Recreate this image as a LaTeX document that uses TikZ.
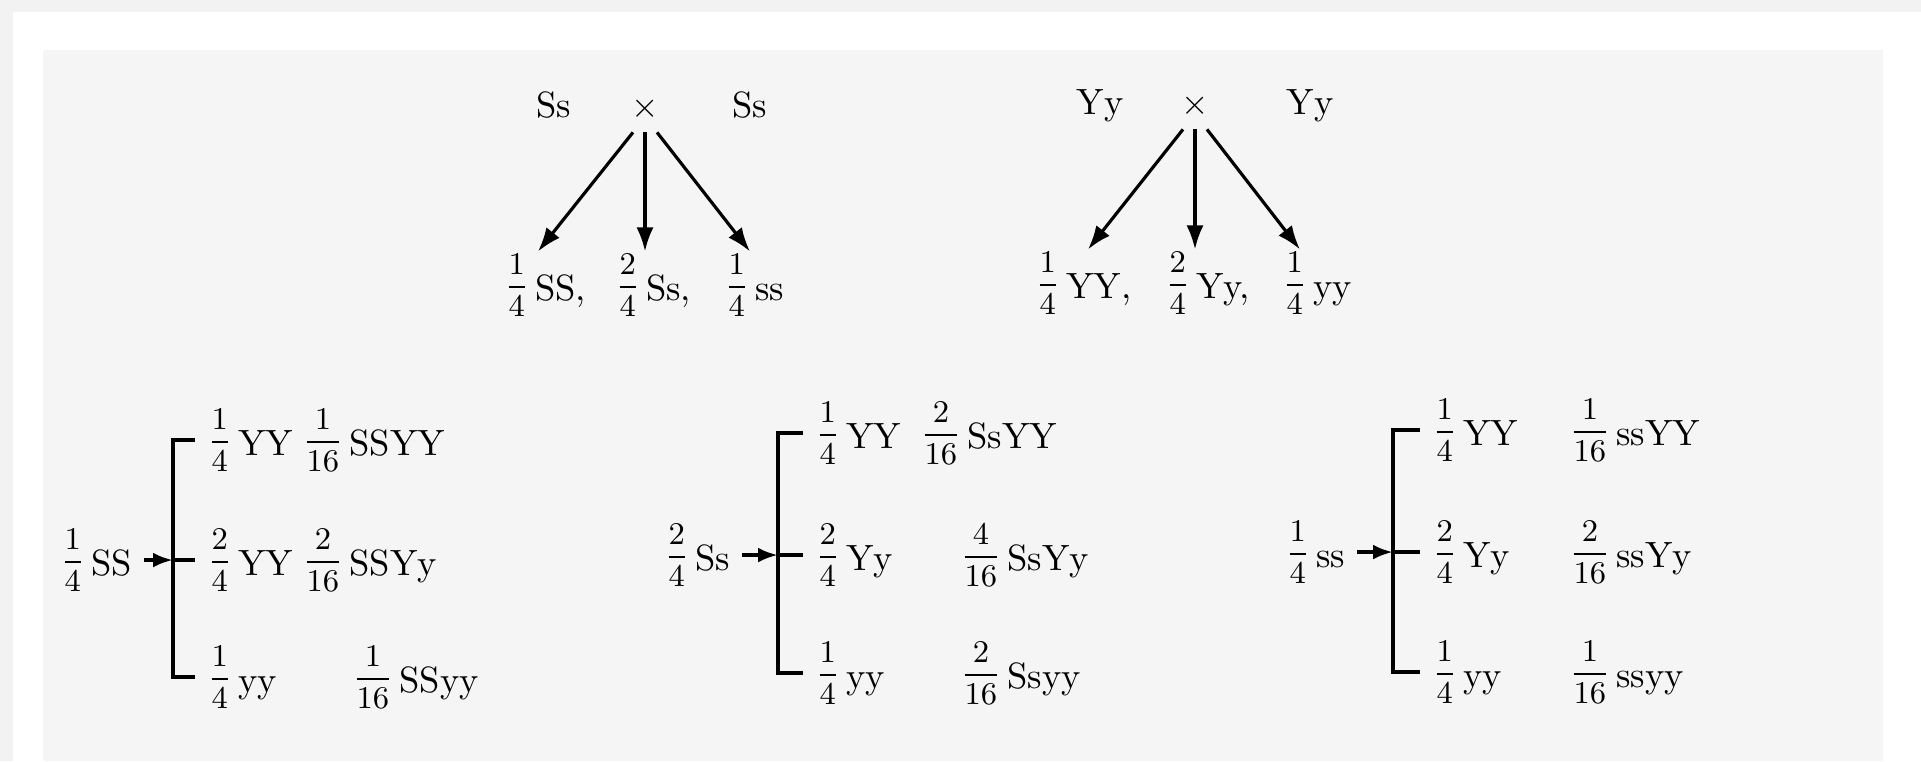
\documentclass[tikz,border=0pt]{standalone}
\usepackage{tikz}
\usetikzlibrary{arrows.meta,positioning}
\definecolor{PageGray}{HTML}{F2F2F2}
\definecolor{PanelGray}{HTML}{F5F5F5}
\newcommand{\gfrac}[2]{\raisebox{1.5pt}{\fontsize{9.4}{11}\selectfont$\displaystyle\frac{#1}{#2}$}\,}

\begin{document}
\begin{tikzpicture}[
      every node/.style={font=\fontsize{10.4}{12.5}\selectfont},
      parent/.style={anchor=base},
      geno/.style={anchor=base west},
      cross/.style={-{Latex[length=2.4mm,width=1.7mm]},line width=0.9pt},
      feed/.style={-{Latex[length=2mm,width=1.5mm]},line width=1.1pt},
      bracket/.style={line width=1.1pt}]
      \useasboundingbox (0,0) rectangle (19.21,-7.61);
      \fill[PageGray] (0,0) rectangle (19.21,-7.61);
      \fill[white] (0.13,-0.12) rectangle (19.21,-7.61);
      \fill[PanelGray] (0.43,-0.50) rectangle (18.83,-7.61);
      % monohybrid crosses
      \node[parent] (ssA) at (5.54,-1.17) {Ss};
      \node[parent] (crossS) at (6.45,-1.17) {$\times$};
      \node[parent] (ssB) at (7.50,-1.17) {Ss};
      \node[geno] (fSS) at (4.92,-3.00) {\gfrac{1}{4}SS,};
      \node[geno] (fSs) at (6.03,-3.00) {\gfrac{2}{4}Ss,};
      \node[geno] (fss) at (7.12,-3.00) {\gfrac{1}{4}ss};
      \node[parent] (yyA) at (11.00,-1.14) {Yy};
      \node[parent] (crossY) at (11.95,-1.14) {$\times$};
      \node[parent] (yyB) at (13.10,-1.14) {Yy};
      \node[geno] (fYY) at (10.23,-2.98) {\gfrac{1}{4}YY,};
      \node[geno] (fYy) at (11.53,-2.98) {\gfrac{2}{4}Yy,};
      \node[geno] (fyy) at (12.70,-2.98) {\gfrac{1}{4}yy};
      \draw[cross] ([xshift=-1.2mm]crossS.south) -- ([xshift=4.6mm,yshift=-1mm]fSS.north west);
      \draw[cross] (crossS.south) -- ([yshift=-1mm]crossS |- fSs.north);
      \draw[cross] ([xshift=1.2mm]crossS.south) -- ([xshift=3.8mm,yshift=-1mm]fss.north west);
      \draw[cross] ([xshift=-1.2mm]crossY.south) -- ([xshift=6.5mm,yshift=-1mm]fYY.north west);
      \draw[cross] (crossY.south) -- ([yshift=-1mm]crossY |- fYy.north);
      \draw[cross] ([xshift=1.2mm]crossY.south) -- ([xshift=3mm,yshift=-1mm]fyy.north west);
      % SS branch
      \node[geno] (p1) at (0.48,-5.75) {\gfrac{1}{4}SS};
      \node[geno] (r11) at (1.95,-4.55) {\gfrac{1}{4}YY};
      \node[geno] (r12) at (1.95,-5.75) {\gfrac{2}{4}YY};
      \node[geno] (r13) at (1.95,-6.92) {\gfrac{1}{4}yy};
      \node[geno] (s11) at (2.90,-4.55) {\gfrac{1}{16}SSYY};
      \node[geno] (s12) at (2.90,-5.75) {\gfrac{2}{16}SSYy};
      \node[geno] (s13) at (3.40,-6.92) {\gfrac{1}{16}SSyy};
      \coordinate (b1) at ([xshift=-2.2mm]r12.west);
      \draw[bracket] (r11.west) -| (b1) |- (r13.west);
      \draw[bracket] (b1) -- (r12.west);
      \draw[feed] (p1) -- (b1);
      % Ss branch
      \node[geno] (p2) at (6.52,-5.70) {\gfrac{2}{4}Ss};
      \node[geno] (r21) at (8.03,-4.48) {\gfrac{1}{4}YY};
      \node[geno] (r22) at (8.03,-5.70) {\gfrac{2}{4}Yy};
      \node[geno] (r23) at (8.03,-6.88) {\gfrac{1}{4}yy};
      \node[geno] (s21) at (9.08,-4.48) {\gfrac{2}{16}SsYY};
      \node[geno] (s22) at (9.48,-5.70) {\gfrac{4}{16}SsYy};
      \node[geno] (s23) at (9.48,-6.88) {\gfrac{2}{16}Ssyy};
      \coordinate (b2) at ([xshift=-2.5mm]r22.west);
      \draw[bracket] (r21.west) -| (b2) |- (r23.west);
      \draw[bracket] (b2) -- (r22.west);
      \draw[feed] (p2) -- (b2);
      % ss branch
      \node[geno] (p3) at (12.73,-5.67) {\gfrac{1}{4}ss};
      \node[geno] (r31) at (14.20,-4.45) {\gfrac{1}{4}YY};
      \node[geno] (r32) at (14.20,-5.67) {\gfrac{2}{4}Yy};
      \node[geno] (r33) at (14.20,-6.87) {\gfrac{1}{4}yy};
      \node[geno] (s31) at (15.57,-4.45) {\gfrac{1}{16}ssYY};
      \node[geno] (s32) at (15.57,-5.67) {\gfrac{2}{16}ssYy};
      \node[geno] (s33) at (15.57,-6.87) {\gfrac{1}{16}ssyy};
      \coordinate (b3) at ([xshift=-2.7mm]r32.west);
      \draw[bracket] (r31.west) -| (b3) |- (r33.west);
      \draw[bracket] (b3) -- (r32.west);
      \draw[feed] (p3) -- (b3);
    \end{tikzpicture}
\end{document}
